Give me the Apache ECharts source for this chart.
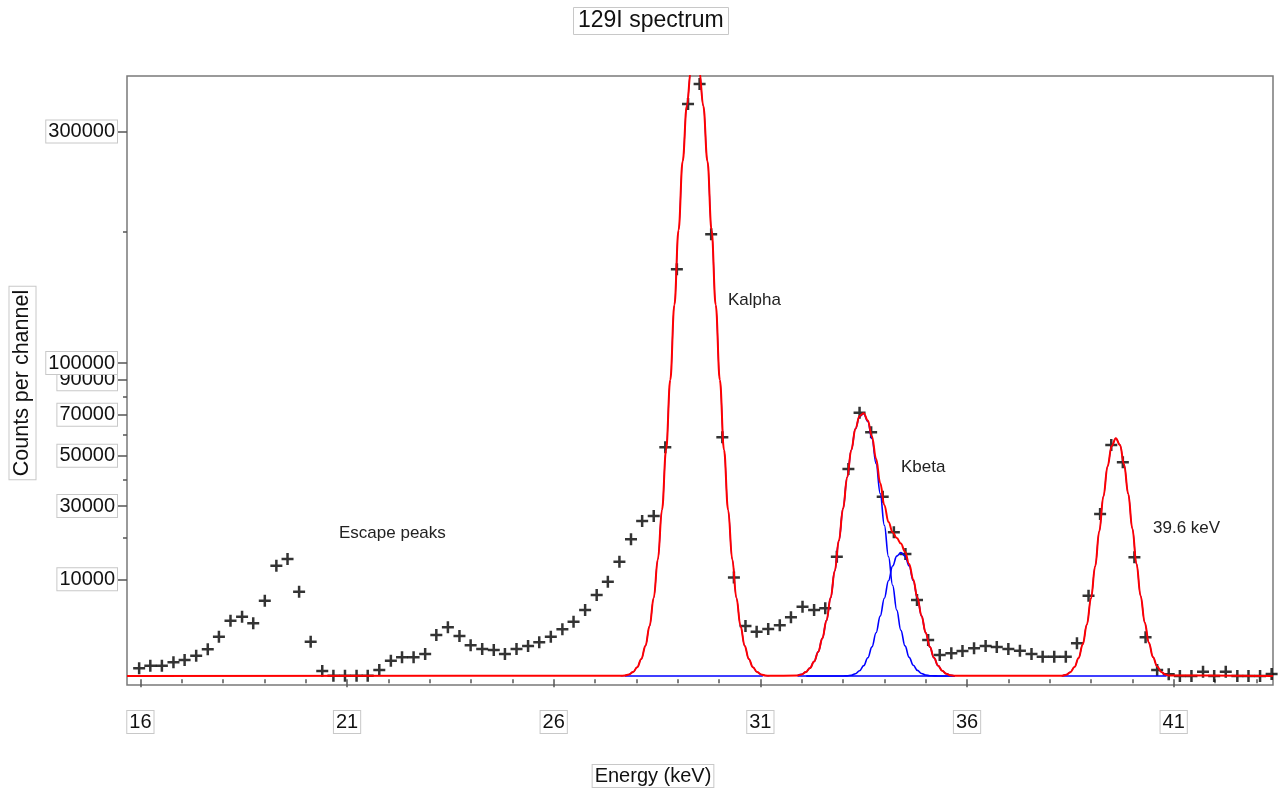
<!DOCTYPE html>
<html>
<head>
<meta charset="utf-8">
<title>129I spectrum</title>
<script src="https://cdn.jsdelivr.net/npm/echarts@6.0.0/dist/echarts.min.js"></script>
<style>
  html, body { margin: 0; padding: 0; background: #ffffff; }
  #chart { width: 1279px; height: 798px; }
</style>
</head>
<body>
<div id="chart"></div>
<script>
// ---------- measured spectrum (channel energy in keV, counts per channel) ----------
const energy = [15.97,16.24,16.52,16.80,17.07,17.35,17.63,17.90,18.18,18.46,
  18.73,19.01,19.29,19.56,19.84,20.12,20.40,20.67,20.95,21.23,
  21.50,21.78,22.06,22.33,22.61,22.89,23.16,23.44,23.72,23.99,
  24.27,24.55,24.82,25.10,25.38,25.65,25.93,26.21,26.48,26.76,
  27.04,27.31,27.59,27.87,28.14,28.42,28.70,28.98,29.25,29.53,
  29.81,30.08,30.36,30.64,30.91,31.19,31.47,31.74,32.02,32.30,
  32.57,32.85,33.13,33.40,33.68,33.96,34.23,34.51,34.79,35.06,
  35.34,35.62,35.89,36.17,36.45,36.72,37.00,37.28,37.56,37.83,
  38.11,38.39,38.66,38.94,39.22,39.49,39.77,40.05,40.32,40.60,
  40.88,41.15,41.43,41.71,41.98,42.26,42.54,42.81,43.09,43.37];
const counts = [121,185,185,289,372,557,900,1815,3434,3919,
  3136,6178,12905,14472,7674,1414,69,13,13,13,
  13,86,346,484,484,640,1962,2704,1875,1156,
  918,858,640,918,1109,1369,1815,2500,3318,4802,
  7106,9526,13830,19600,25059,26667,53824,168100,330970,354382,
  198025,58564,10363,2841,2266,2530,2916,3844,5271,4802,
  5041,15031,44226,71076,61009,33343,21609,15700,6288,1544,
  590,676,801,961,1109,1043,918,818,640,511,
  511,511,1296,6989,27324,54896,47089,14884,1764,86,
  25,11,11,58,11,58,11,11,11,28];

// ---------- fitted curves ----------
const fitBase = 11;                       // fitted constant background (counts)
// K-alpha peak
const kaE = [27.62,27.72,27.82,27.92,28.02,28.12,28.22,28.32,28.42,28.52,
  28.62,28.72,28.82,28.92,29.02,29.12,29.22,29.32,29.42,29.52,
  29.62,29.72,29.82,29.92,30.02,30.12,30.22,30.32,30.42,30.52,
  30.62,30.72,30.82,30.92,31.02,31.12,31.22];
const kaFit = [12,14,23,52,146,411,1120,2841,6653,14411,
  28674,52727,89531,140112,201612,268335,328799,371501,386895,371501,
  328799,268335,201612,140112,89531,52727,28674,14411,6653,2841,
  1120,411,146,52,23,14,12];
// K-beta region (sum and two components)
const kbE = [31.9,32.0,32.1,32.2,32.3,32.4,32.5,32.6,32.7,32.8,
  32.9,33.0,33.1,33.2,33.3,33.4,33.5,33.6,33.7,33.8,
  33.9,34.0,34.1,34.2,34.3,34.4,34.5,34.6,34.7,34.8,
  34.9,35.0,35.1,35.2,35.3,35.4,35.5,35.6,35.7];
const kbFit = [15,24,52,127,316,751,1676,3466,6640,11761,
  19248,29115,40735,52594,62780,69294,70782,66924,58894,48648,
  38510,30294,24746,21637,19937,18426,16269,13296,9901,6646,
  4011,2172,1056,464,186,72,30,16,12];
const kb1Fit = [15,24,52,127,316,751,1676,3466,6640,11761,
  19248,29115,40734,52589,62761,69233,70607,66472,57851,46494,
  34533,23727,15042,8823,4783,2398,1115,482,197,79,
  34,18,13,12,11,11,11,11,11];
const kb2Fit = [11,11,11,11,11,11,11,11,11,11,
  11,11,12,16,30,72,186,463,1054,2165,
  3988,6578,9715,12825,15165,16039,15165,12825,9715,6578,
  3988,2165,1054,463,186,72,30,16,12];
// 39.6 keV peak
const pkE = [38.3,38.4,38.5,38.6,38.7,38.8,38.9,39.0,39.1,39.2,
  39.3,39.4,39.5,39.6,39.7,39.8,39.9,40.0,40.1,40.2,
  40.3,40.4,40.5,40.6,40.7,40.8,40.9];
const pkFit = [13,21,51,151,450,1230,3014,6572,12737,21911,
  33441,45300,54458,58092,54964,46158,34411,22759,13359,6960,
  3221,1327,490,166,55,22,14];
// fit windows (blue baseline drawn under each fitted peak)
const fitWindows = [[27.72, 31.06], [32.11, 35.71], [38.29, 40.83]];

// ---------- axes ----------
const xMin = 15.676, xMax = 43.403;
const xTickLabels = [16, 21, 26, 31, 36, 41];
const xMinorTicks = [17,18,19,20,22,23,24,25,27,28,29,30,32,33,34,35,37,38,39,40,42,43];
const yTickLabels = [10000, 30000, 50000, 70000, 90000, 100000, 300000];
const yMinorTicks = [20000, 40000, 60000, 80000, 200000];
const yMinSqrt = -5.7, yMaxSqrt = 603.3;   // square-root count scale

const annotations = [
  { text: 'Kalpha', x: 728, y: 300 },
  { text: 'Kbeta', x: 901, y: 467 },
  { text: '39.6 keV', x: 1153, y: 528 },
  { text: 'Escape peaks', x: 339, y: 533 }
];

// ---------- helpers ----------
const FONT = '"Liberation Sans", Arial, Helvetica, sans-serif';
const sq = v => Math.sqrt(v);
const pairs = (xs, ys) => xs.map((x, i) => [x, sq(ys[i])]);
const boxText = { borderColor: '#c8c8c8', borderWidth: 1, backgroundColor: '#ffffff' };
const tickStyle = { color: '#555555', width: 1.5 };

const redData = [[xMin, sq(fitBase)]]
  .concat(pairs(kaE, kaFit))
  .concat(pairs(kbE, kbFit))
  .concat(pairs(pkE, pkFit))
  .concat([[xMax, sq(fitBase)]]);

const baselineData = [];
fitWindows.forEach((w, i) => {
  if (i > 0) baselineData.push('-');
  baselineData.push([w[0], sq(fitBase)], [w[1], sq(fitBase)]);
});

const blueLine = (name, data, width) => ({
  name, type: 'line', data, z: 3, smooth: 0.4, smoothMonotone: 'x',
  symbol: 'none', showSymbol: false, silent: true, clip: true,
  lineStyle: { color: '#0000ff', width: width || 1.6 }
});

const crossPath = 'path://M4.75,0H7.25V4.75H12V7.25H7.25V12H4.75V7.25H0V4.75H4.75Z';

const chart = echarts.init(document.getElementById('chart'), null, { renderer: 'canvas' });
chart.setOption({
  animation: false,
  backgroundColor: '#ffffff',
  title: {
    text: '129I spectrum', left: 573, top: 7,
    padding: [2, 5, 2, 5], borderColor: '#c8c8c8', borderWidth: 1,
    textStyle: { fontFamily: FONT, fontSize: 23, fontWeight: 'normal', color: '#111111', lineHeight: 24 }
  },
  grid: { left: 127, right: 6, top: 76, bottom: 113, show: true, borderColor: '#7a7a7a', borderWidth: 1.5 },
  xAxis: [
    {
      type: 'value', min: xMin, max: xMax,
      axisLine: { show: false }, splitLine: { show: false },
      axisTick: { show: true, customValues: xTickLabels, length: 8, lineStyle: tickStyle },
      axisLabel: Object.assign({
        customValues: xTickLabels, margin: 26, fontFamily: FONT, fontSize: 20, lineHeight: 20,
        color: '#111111', padding: [1, 2, 1, 2]
      }, boxText)
    },
    {
      type: 'value', min: xMin, max: xMax, position: 'bottom',
      axisLine: { show: false }, splitLine: { show: false }, axisLabel: { show: false },
      axisTick: { show: true, customValues: xMinorTicks, length: 4, lineStyle: tickStyle }
    }
  ],
  yAxis: [
    {
      type: 'value', min: yMinSqrt, max: yMaxSqrt,
      axisLine: { show: false }, splitLine: { show: false },
      axisTick: { show: true, customValues: yTickLabels.map(sq), length: 9, lineStyle: tickStyle },
      axisLabel: Object.assign({
        customValues: yTickLabels.map(sq), margin: 10, fontFamily: FONT, fontSize: 20, lineHeight: 20,
        color: '#111111', padding: [1, 2, 1, 2],
        formatter: v => String(Math.round(v * v))
      }, boxText)
    },
    {
      type: 'value', min: yMinSqrt, max: yMaxSqrt, position: 'left',
      axisLine: { show: false }, splitLine: { show: false }, axisLabel: { show: false },
      axisTick: { show: true, customValues: yMinorTicks.map(sq), length: 4, lineStyle: tickStyle }
    }
  ],
  series: [
    {
      name: 'data', type: 'scatter', z: 2, clip: true, silent: true,
      symbol: crossPath, symbolSize: 12,
      itemStyle: { color: '#000000' },
      data: pairs(energy, counts)
    },
    blueLine('Kalpha component', pairs(kaE, kaFit), 1.2),
    blueLine('Kbeta1 component', pairs(kbE, kb1Fit)),
    blueLine('Kbeta2 component', pairs(kbE, kb2Fit)),
    blueLine('39.6 keV component', pairs(pkE, pkFit), 1.2),
    Object.assign(blueLine('baseline', baselineData), { smooth: false }),
    {
      name: 'fit', type: 'line', z: 4, smooth: 0.4, smoothMonotone: 'x',
      symbol: 'none', showSymbol: false, silent: true, clip: true,
      lineStyle: { color: '#ff0000', width: 2 },
      data: redData
    }
  ],
  graphic: [
    {
      type: 'text', x: 22.5, y: 383, rotation: Math.PI / 2, silent: true,
      style: Object.assign({
        text: 'Counts per channel', fontFamily: FONT, fontSize: 21.5, fill: '#111111',
        align: 'center', verticalAlign: 'middle', textAlign: 'center', textVerticalAlign: 'middle',
        padding: [2, 3, 2, 3]
      }, boxText)
    },
    {
      type: 'text', x: 653, y: 776, silent: true,
      style: Object.assign({
        text: 'Energy (keV)', fontFamily: FONT, fontSize: 20, fill: '#111111',
        align: 'center', verticalAlign: 'middle', textAlign: 'center', textVerticalAlign: 'middle',
        padding: [1, 2, 1, 2]
      }, boxText)
    }
  ].concat(annotations.map(a => ({
    type: 'text', x: a.x, y: a.y, silent: true,
    style: {
      text: a.text, fontFamily: FONT, fontSize: 17, fill: '#222222',
      align: 'left', verticalAlign: 'middle', textAlign: 'left', textVerticalAlign: 'middle'
    }
  })))
});
</script>
</body>
</html>
